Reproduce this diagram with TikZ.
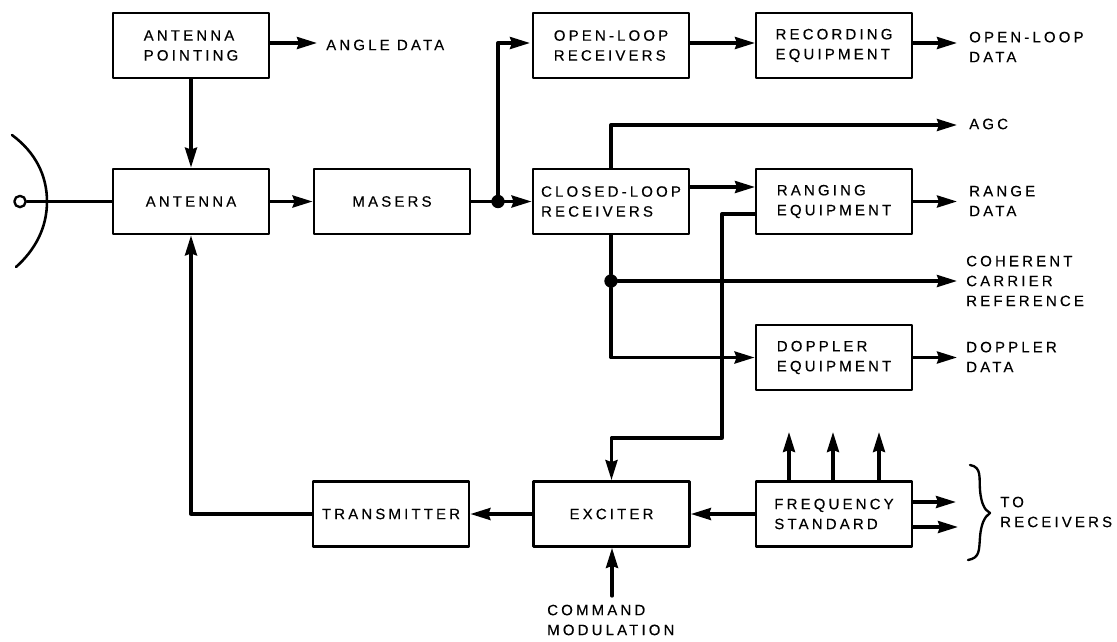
\documentclass[tikz,border=0pt]{standalone}
\usepackage{fontspec}
\setmainfont[LetterSpace=21,FakeBold=0.3]{Liberation Sans}
\usetikzlibrary{arrows.meta}
\tikzset{
  blockbox/.style={draw=black, line width=2.4pt, minimum width=4.68cm, minimum height=1.95cm, align=left, inner sep=0pt},
  flow/.style={draw=black, line width=2.8pt},
  arrowflow/.style={flow, -{Stealth[length=6mm, width=3.6mm, inset=0.6mm]}},
  lab/.style={anchor=west, align=left, inner sep=0pt, text=black},
  jct/.style={circle, fill=black, inner sep=0pt, minimum size=4mm}
}
\begin{document}
\begin{tikzpicture}[x=0.03cm, y=-0.03cm, line cap=round, line join=round, every node/.style={font=\fontsize{12.8}{17}\selectfont}]
  \useasboundingbox (0,0) rectangle (1117,641);
  % blocks
  \node[blockbox] (pointing) at (191,45.5) {ANTENNA\\POINTING};
  \node[blockbox] (antenna) at (191,201.5) {ANTENNA};
  \node[blockbox] (masers) at (392,201.5) {MASERS};
  \node[blockbox] (openrx) at (611,45.5) {OPEN-LOOP\\RECEIVERS};
  \node[blockbox] (recording) at (834,45.5) {RECORDING\\EQUIPMENT};
  \node[blockbox] (closedrx) at (611,201.5) {CLOSED-LOOP\\RECEIVERS};
  \node[blockbox] (ranging) at (834,201.5) {RANGING\\EQUIPMENT};
  \node[blockbox] (doppler) at (834,357.5) {DOPPLER\\EQUIPMENT};
  \node[blockbox] (transmitter) at (391,514) {TRANSMITTER};
  \node[blockbox] (exciter) at (611.5,514) {EXCITER};
  \node[blockbox] (freqstd) at (834,514) {FREQUENCY\\STANDARD};
  % labels
  \node[lab] (anglelbl) at (326,45) {ANGLE DATA};
  \node[lab] (openlbl) at (969,47) {OPEN-LOOP\\DATA};
  \node[lab] (agclbl) at (969,124) {AGC};
  \node[lab] (rangelbl) at (969,201) {RANGE\\DATA};
  \node[lab] (coherentlbl) at (966,281) {COHERENT\\CARRIER\\REFERENCE};
  \node[lab] (dopplerlbl) at (966,357) {DOPPLER\\DATA};
  \node[lab] (tolbl) at (1000,512) {TO\\RECEIVERS};
  \node[lab] (cmdlbl) at (547,620) {COMMAND\\MODULATION};
  % free ends
  \coordinate (toprow) at (0,43);
  \coordinate (angleend) at (317,43);
  \coordinate (openend) at (530,43);
  \coordinate (recend) at (755,43);
  \coordinate (opendataend) at (957,43);
  \coordinate (agcend) at (957,125);
  \coordinate (rangein) at (755,187);
  \coordinate (rangeend) at (957,201.5);
  \coordinate (cohend) at (957,281);
  \coordinate (dopplerend) at (957,357.5);
  \coordinate (rangetap) at (755,214);
  \coordinate (rangedrop) at (722,438);
  \coordinate (cmdstart) at (612,596);
  \coordinate (torxa) at (956,502);
  \coordinate (torxb) at (958,527);
  \node[jct] (jctA) at (498,201.5) {};
  \node[jct] (jctB) at (611,281) {};
  \node[draw=black, line width=2pt, circle, fill=white, inner sep=0pt, minimum size=3.4mm] (feed) at (20,201.5) {};
  % dish
  \draw[flow, line width=2.2pt] (12,135) .. controls (35,152) and (47,175) .. (47,201.5) .. controls (47,228) and (35,250) .. (16,267);
  \draw[flow] (feed) -- (antenna.west);
  % top row
  \draw[arrowflow] (pointing.east |- toprow) -- (angleend);
  \draw[arrowflow] (pointing.south) -- (antenna.north);
  \draw[arrowflow] (openrx.east |- toprow) -- (recend);
  \draw[arrowflow] (recording.east |- toprow) -- (opendataend);
  % middle
  \draw[arrowflow] (antenna.east) -- (masers.west);
  \draw[arrowflow] (masers.east) -- (closedrx.west);
  \draw[arrowflow] (jctA) |- (openend);
  \draw[arrowflow] (closedrx.north) |- (agcend);
  \draw[arrowflow] (closedrx.east |- rangein) -- (rangein);
  \draw[arrowflow] (ranging.east) -- (rangeend);
  \draw[flow] (closedrx.south) -- (jctB);
  \draw[arrowflow] (jctB) -- (cohend);
  \draw[arrowflow] (jctB) |- (doppler.west);
  \draw[arrowflow] (doppler.east) -- (dopplerend);
  \draw[arrowflow] (rangetap) -| (rangedrop) -| (exciter.north);
  % bottom row
  \draw[arrowflow] (freqstd.west) -- (exciter.east);
  \draw[arrowflow] (exciter.west) -- (transmitter.east);
  \draw[arrowflow] (transmitter.west) -| (antenna.south);
  \draw[arrowflow] (cmdstart) -- (exciter.south -| cmdstart);
  \foreach \xa in {789,833,879}
    \draw[arrowflow] (\xa,481) -- (\xa,432);
  \draw[arrowflow] (freqstd.east |- torxa) -- (torxa);
  \draw[arrowflow] (freqstd.east |- torxb) -- (torxb);
  % brace
  \draw[flow, line width=2pt] (970,465) .. controls (982,467) and (979,478) .. (980,490) .. controls (981,502) and (984,510) .. (990,513) .. controls (984,517) and (981,525) .. (980,537) .. controls (979,550) and (980,558) .. (968,560);
\end{tikzpicture}
\end{document}
